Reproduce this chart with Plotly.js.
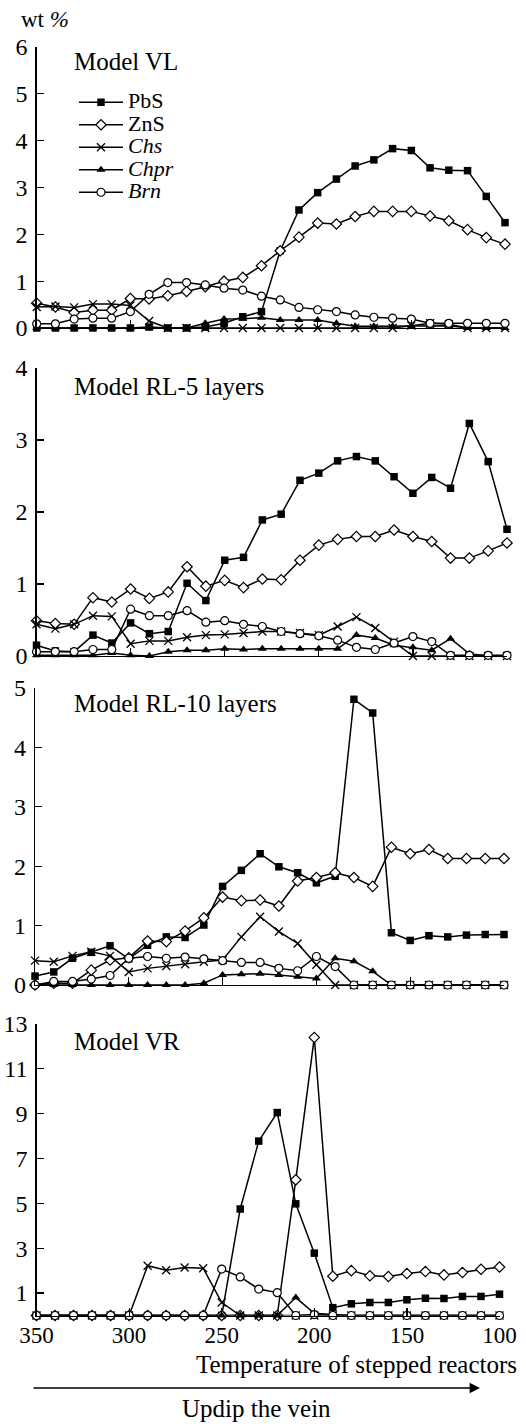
<!DOCTYPE html>
<html>
<head>
<meta charset="utf-8">
<script src="https://cdn.plot.ly/plotly-3.0.1.min.js"></script>
<style>
html,body{margin:0;padding:0;background:#fff;}
#chart{width:526px;height:1424px;}
</style>
</head>
<body>
<div id="chart"></div>
<script>
// Temperatures of the stepped reactors (deg C)
var temps = [350,340,330,320,310,300,290,280,270,260,250,240,230,220,210,200,190,180,170,160,150,140,130,120,110,100];

// Model VL
var vlPbS  = [0,0,0,0,0,0,0.02,0,0,0.02,0.1,0.24,0.35,1.65,2.52,2.89,3.18,3.46,3.59,3.83,3.79,3.42,3.37,3.36,2.81,2.25];
var vlZnS  = [0.53,0.45,0.33,0.38,0.38,0.63,0.62,0.69,0.78,0.88,1.0,1.08,1.33,1.65,1.94,2.24,2.22,2.38,2.49,2.49,2.49,2.39,2.29,2.10,1.93,1.79];
var vlChs  = [0.45,0.46,0.44,0.51,0.51,0.48,0.15,0,0,0,0,0,0,0,0,0,0,0,0,0,0.05,0.1,0.08,0,0,0];
var vlChpr = [0,0,0,0,0,0,0,0,0,0.1,0.19,0.2,0.22,0.17,0.17,0.17,0.1,0.04,0.04,0.04,0.04,0.05,0.05,0,0,0];
var vlBrn  = [0.09,0.09,0.19,0.21,0.21,0.35,0.72,0.97,0.97,0.92,0.85,0.81,0.68,0.6,0.44,0.39,0.35,0.28,0.23,0.21,0.19,0.1,0.1,0.1,0.1,0.1];

// Model RL-5 layers
var r5PbS  = [0.15,0.07,0.06,0.29,0.18,0.46,0.31,0.34,1.01,0.77,1.33,1.37,1.89,1.97,2.44,2.54,2.71,2.77,2.71,2.49,2.26,2.48,2.33,3.23,2.70,1.76];
var r5ZnS  = [0.49,0.45,0.44,0.81,0.75,0.93,0.80,0.89,1.24,0.97,1.05,0.95,1.07,1.06,1.33,1.54,1.62,1.66,1.66,1.75,1.66,1.59,1.36,1.36,1.46,1.57];
var r5Chs  = [0.44,0.38,0.44,0.56,0.55,0.17,0.21,0.21,0.26,0.29,0.30,0.32,0.34,0.34,0.32,0.29,0.41,0.54,0.39,0.2,0,0,0,0,0,0];
var r5Chpr = [0.01,0.01,0.01,0.01,0.04,0.01,0,0.06,0.08,0.08,0.1,0.09,0.1,0.1,0.1,0.1,0.1,0.29,0.25,0.15,0.12,0.08,0.24,0.03,0,0];
var r5Brn  = [0.06,0.06,0.06,0.09,0.09,0.65,0.56,0.56,0.63,0.47,0.49,0.44,0.41,0.34,0.31,0.28,0.22,0.12,0.09,0.18,0.27,0.2,0.01,0.01,0.01,0.01];

// Model RL-10 layers
var r10PbS  = [0.15,0.22,0.45,0.55,0.66,0.44,0.67,0.81,0.80,1.01,1.66,1.93,2.21,1.99,1.89,1.72,1.83,4.81,4.58,0.88,0.75,0.83,0.81,0.84,0.85,0.85];
var r10ZnS  = [0,0.03,0.03,0.25,0.42,0.46,0.74,0.73,0.91,1.13,1.48,1.42,1.43,1.33,1.75,1.81,1.89,1.81,1.66,2.32,2.21,2.28,2.13,2.13,2.13,2.13];
var r10Chs  = [0.41,0.39,0.49,0.56,0.49,0.22,0.28,0.32,0.35,0.39,0.42,0.81,1.15,0.90,0.70,0.34,0,0,0,0,0,0,0,0,0,0];
var r10Chpr = [0,0,0,0,0,0,0,0,0,0.03,0.17,0.18,0.19,0.17,0.14,0.11,0.45,0.4,0.23,0,0,0,0,0,0,0];
var r10Brn  = [0,0.06,0.06,0.1,0.16,0.45,0.48,0.45,0.47,0.44,0.41,0.38,0.38,0.28,0.24,0.48,0.31,0,0,0,0,0,0,0,0,0];

// Model VR
var vrPbS  = [0,0,0,0,0,0,0,0,0,0,0,4.75,7.78,9.05,4.98,2.78,0.35,0.52,0.58,0.58,0.7,0.77,0.76,0.85,0.85,0.95];
var vrZnS  = [0,0,0,0,0,0,0,0,0,0,0,0,0,0,6.05,12.4,1.75,2.0,1.77,1.74,1.87,1.96,1.81,1.92,2.06,2.16];
var vrChs  = [0,0,0,0,0,0,2.22,2.02,2.14,2.11,0.58,0,0,0,0,0,0,0,0,0,0,0,0,0,0,0];
var vrChpr = [0,0,0,0,0,0,0,0,0,0,0,0,0,0,0.8,0.1,0.05,0,0,0,0,0,0,0,0,0];
var vrBrn  = [0,0,0,0,0,0,0,0,0,0,2.07,1.72,1.18,1.02,0,0.04,0,0,0,0,0,0,0,0,0,0];

var seriesNames = ['PbS','ZnS','<i>Chs</i>','<i>Chpr</i>','<i>Brn</i>'];
var panelTitles = ['Model VL','Model RL-5 layers','Model RL-10 layers','Model VR'];
var xTickVals = [350,300,250,200,150,100];
var xTickText = ['350','300','250','200','150','100'];
var yTicks = [[0,1,2,3,4,5,6],[0,1,2,3,4],[0,1,2,3,4,5],[1,3,5,7,9,11,13]];
var yMax = [6,4,5,13];

var panels = [
  [vlPbS, vlZnS, vlChs, vlChpr, vlBrn],
  [r5PbS, r5ZnS, r5Chs, r5Chpr, r5Brn],
  [r10PbS, r10ZnS, r10Chs, r10Chpr, r10Brn],
  [vrPbS, vrZnS, vrChs, vrChpr, vrBrn]
];

var FONT = "'Liberation Serif', 'Times New Roman', Times, serif";
var markerStyles = [
  {symbol:'square', size:7.5, color:'#000', line:{color:'#000', width:0}},
  {symbol:'diamond', size:8, color:'#fff', line:{color:'#000', width:1.2}},
  {symbol:'x-thin', size:8, color:'#000', line:{color:'#000', width:1.3}},
  {symbol:'triangle-up', size:8, color:'#000', line:{color:'#000', width:0}},
  {symbol:'circle', size:8, color:'#fff', line:{color:'#000', width:1.2}}
];

var traces = [];
panels.forEach(function(series, p){
  var ax = p === 0 ? '' : String(p+1);
  series.forEach(function(vals, s){
    traces.push({
      type:'scatter', mode:'lines+markers',
      x: temps, y: vals,
      xaxis:'x'+ax, yaxis:'y'+ax,
      name: '<span style="font-size:22px">' + seriesNames[s] + '</span>',
      showlegend: p === 0,
      cliponaxis:false,
      line:{color:'#000', width:1.5},
      marker: markerStyles[s],
      hoverinfo:'skip'
    });
  });
});

// panel placement in pixels (figure 526 x 1424)
var H = 1424, W = 526;
var xPix = [[36.7,505],[36.5,507],[35,504],[36.5,499.5]];
var yPix = [[328,47],[656,368],[985,688],[1315.5,1024]];

var layout = {
  width:W, height:H,
  margin:{l:0,r:0,t:0,b:0},
  paper_bgcolor:'#fff', plot_bgcolor:'rgba(0,0,0,0)',
  font:{family:FONT, color:'#000', size:22},
  showlegend:true,
  legend:{
    x:74/W, y:(H-86)/H, xanchor:'left', yanchor:'top',
    bgcolor:'rgba(0,0,0,0)', borderwidth:0,
    font:{family:FONT, size:15, color:'#000'},
    itemwidth:44, tracegroupgap:0
  },
  annotations:[],
  hovermode:false
};

for (var p = 0; p < 4; p++) {
  var ax = p === 0 ? '' : String(p+1);
  layout['xaxis'+ax] = {
    domain:[xPix[p][0]/W, xPix[p][1]/W],
    anchor:'y'+ax,
    range:[350,100],
    showgrid:false, zeroline:false,
    showline:true, linecolor:'#000', linewidth:1.3,
    ticks:'inside', ticklen:8, tickwidth:1.2, tickcolor:'#000',
    tickvals:xTickVals, ticktext:xTickText,
    showticklabels: p === 3,
    tickfont:{family:FONT, size:23, color:'#000'},
    ticklabelstandoff:-1,
    fixedrange:true
  };
  layout['yaxis'+ax] = {
    domain:[(H-yPix[p][0])/H, (H-yPix[p][1])/H],
    anchor:'x'+ax,
    range:[0,yMax[p]],
    showgrid:false, zeroline:false,
    showline:true, linecolor:'#000', linewidth:1.3,
    ticks:'inside', ticklen:7, tickwidth:1.2, tickcolor:'#000',
    tickvals:yTicks[p],
    tickfont:{family:FONT, size:24, color:'#000'},
    ticklabelstandoff:3,
    fixedrange:true
  };
}

var titleY = [61, 386, 703, 1041];
panelTitles.forEach(function(t, p){
  layout.annotations.push({
    xref:'paper', yref:'paper', x:72/W, y:(H-titleY[p])/H,
    xanchor:'left', yanchor:'middle', showarrow:false,
    text:t, font:{family:FONT, size:25, color:'#000'}
  });
});

layout.annotations.push({
  xref:'paper', yref:'paper', x:19/W, y:(H-20)/H,
  xanchor:'left', yanchor:'middle', showarrow:false,
  text:'wt <i>%</i>', font:{family:FONT, size:23, color:'#000'}
});
layout.annotations.push({
  xref:'paper', yref:'paper', x:519/W, y:(H-1364)/H,
  xanchor:'right', yanchor:'middle', showarrow:false,
  text:'Temperature of stepped reactors', font:{family:FONT, size:25, color:'#000'}
});
layout.annotations.push({
  xref:'paper', yref:'paper', x:480/W, y:(H-1388)/H,
  showarrow:true, text:'', ax:-448, ay:0, axref:'pixel', ayref:'pixel',
  arrowhead:2, arrowsize:1.6, arrowwidth:1.3, arrowcolor:'#000', standoff:0, startstandoff:0
});
layout.annotations.push({
  xref:'paper', yref:'paper', x:256/W, y:(H-1408)/H,
  xanchor:'center', yanchor:'middle', showarrow:false,
  text:'Updip the vein', font:{family:FONT, size:25, color:'#000'}
});

Plotly.newPlot('chart', traces, layout, {displayModeBar:false, staticPlot:true});
</script>
</body>
</html>
